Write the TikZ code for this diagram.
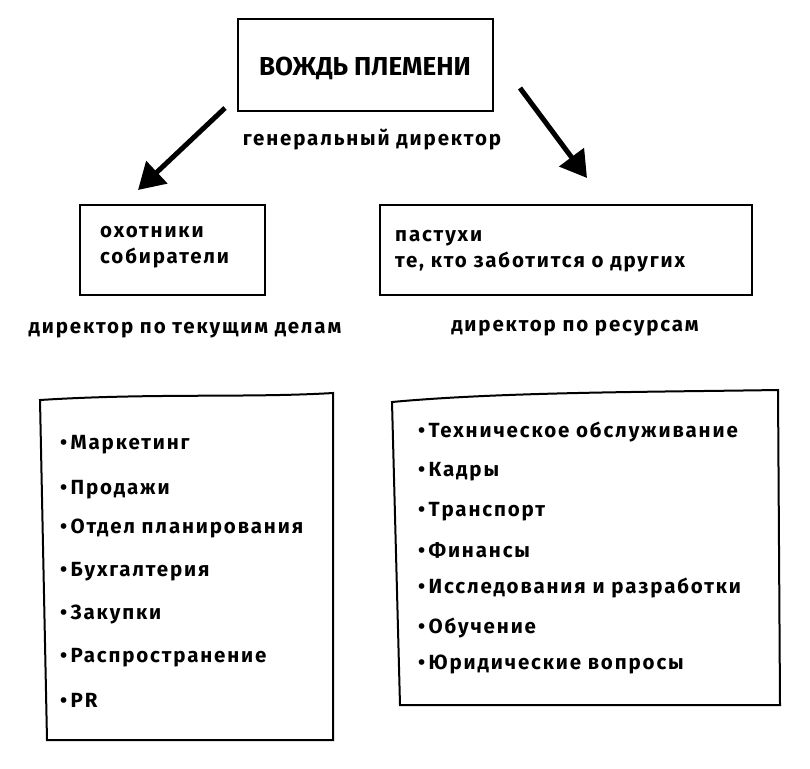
\documentclass[tikz,border=0pt]{standalone}
\usepackage{fontspec}
\setmainfont{Fira Sans}[LetterSpace=9]
\newfontfamily\titlefont{Fira Sans}
\usetikzlibrary{arrows.meta}
\begin{document}
\begin{tikzpicture}[x=1pt,y=-1pt,
  box/.style={draw,line width=2pt},
  txt/.style={font=\bfseries\fontsize{20.5}{26}\selectfont,anchor=west,inner sep=0},
  lbl/.style={font=\bfseries\fontsize{20.5}{26}\selectfont,inner sep=0},
  arr/.style={line width=5pt,-{Triangle[length=26pt,width=30pt]}}]
\fill[white] (0,0) rectangle (810,768);
\useasboundingbox (0,0) rectangle (810,768);
\node[box,minimum width=255pt,minimum height=92pt] (top) at (365,65) {};
\node[lbl,font=\titlefont\bfseries\fontsize{26}{30}\selectfont] (topt) at (365,68) {ВОЖДЬ ПЛЕМЕНИ};
\node[lbl] (gen) at (372,140) {генеральный директор};
\coordinate (la) at (225,108); \coordinate (lb) at (138,190);
\coordinate (ra) at (520,88); \coordinate (rb) at (587,178);
\draw[arr] (la) -- (lb);
\draw[arr] (ra) -- (rb);
\node[box,minimum width=185pt,minimum height=90pt] (lbox) at (172,250) {};
\node[txt,align=left] (lt) at (100,247) {охотники\\собиратели};
\node[box,minimum width=372pt,minimum height=90pt] (rbox) at (566,250) {};
\node[txt,align=left] (rt) at (395,251) {пастухи\\те, кто заботится о других};
\node[lbl] (ld) at (185,330) {директор по текущим делам};
\node[lbl] (rd) at (575,328) {директор по ресурсам};
\draw[line width=2pt] (40,400) .. controls (150,393) and (250,398) .. (333,393) -- (333,740) -- (47,740) -- cycle;
\draw[line width=2pt] (392,402) .. controls (500,392) and (650,392) .. (778,390) -- (780,705) -- (400,705) -- cycle;
\foreach \y/\t [count=\i] in {445/Маркетинг,490/Продажи,528/Отдел планирования,572/Бухгалтерия,614/Закупки,658/Распространение,700/PR}
  \node[txt] (l\i) at (60,\y) {•\,\t};
\foreach \y/\t [count=\i] in {432/Техническое обслуживание,472/Кадры,512/Транспорт,550/Финансы,588/Исследования и разработки,628/Обучение,664/Юридические вопросы}
  \node[txt] (r\i) at (418,\y) {•\,\t};
\end{tikzpicture}
\end{document}
